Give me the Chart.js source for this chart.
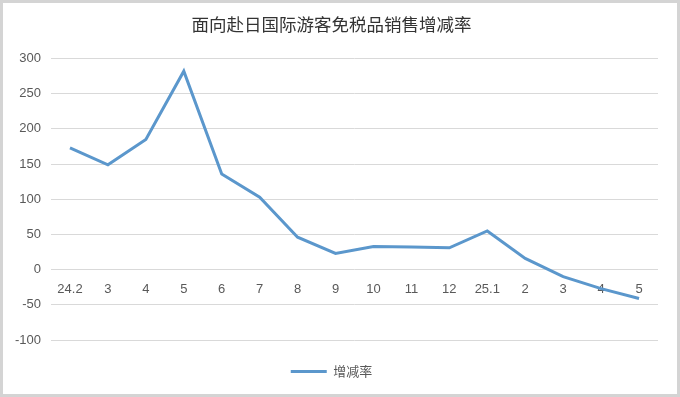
<!DOCTYPE html>
<html>
<head>
<meta charset="utf-8">
<script src="https://cdn.jsdelivr.net/npm/chart.js@4"></script>
<style>
  html, body { margin: 0; padding: 0; background: #fff; }
  #wrap { width: 680px; height: 397px; position: relative; }
</style>
</head>
<body>
<div id="wrap"><canvas id="line-chart" width="680" height="397"></canvas></div>
<script>
// data
var months = ["24.2", "3", "4", "5", "6", "7", "8", "9", "10", "11", "12", "25.1", "2", "3", "4", "5"];
var rates = [173, 149, 185, 282, 136, 103, 46, 23, 33, 32, 31, 55, 16, -10, -27, -41];
var yMin = -100, yMax = 300, yStep = 50;

var frame = {
  id: 'frame',
  beforeDraw: function (chart) {
    var ctx = chart.ctx;
    ctx.save();
    ctx.fillStyle = '#fff';
    ctx.fillRect(0, 0, chart.width, chart.height);
    ctx.strokeStyle = '#d4d4d4';
    ctx.lineWidth = 3;
    ctx.strokeRect(1.5, 1.5, chart.width - 3, chart.height - 3);
    ctx.restore();
  }
};

new Chart(document.getElementById("line-chart"), {
  type: 'line',
  data: {
    labels: months,
    datasets: [{
      label: "增减率",
      data: rates,
      borderColor: "#5b97cc",
      backgroundColor: "#5b97cc",
      borderWidth: 3,
      pointRadius: 0,
      tension: 0,
      fill: false
    }]
  },
  options: {
    responsive: false,
    animation: false,
    layout: { padding: { left: 5, right: 22, top: 0, bottom: 9 } },
    plugins: {
      title: {
        display: true,
        text: '面向赴日国际游客免税品销售增减率',
        color: '#333',
        font: { family: '"Noto Sans CJK SC"', size: 17.5, weight: 'normal' },
        padding: { top: 14, bottom: 23.5 }
      },
      legend: {
        position: 'bottom',
        labels: {
          usePointStyle: true,
          pointStyle: 'line',
          pointStyleWidth: 36,
          color: '#595959',
          font: { family: '"Noto Sans CJK SC"', size: 13 },
          padding: 25
        }
      },
      tooltip: { enabled: false }
    },
    scales: {
      x: {
        position: { y: 0 },
        offset: true,
        grid: { display: false },
        border: { display: false },
        ticks: {
          color: '#595959',
          font: { family: 'Liberation Sans', size: 13 },
          maxRotation: 0,
          autoSkip: false,
          padding: 4
        }
      },
      y: {
        min: yMin,
        max: yMax,
        grid: { color: '#d9d9d9', lineWidth: 1, drawTicks: false },
        border: { display: false },
        ticks: {
          stepSize: yStep,
          color: '#595959',
          font: { family: 'Liberation Sans', size: 13 },
          padding: 10
        }
      }
    }
  },
  plugins: [frame]
});
</script>
</body>
</html>
